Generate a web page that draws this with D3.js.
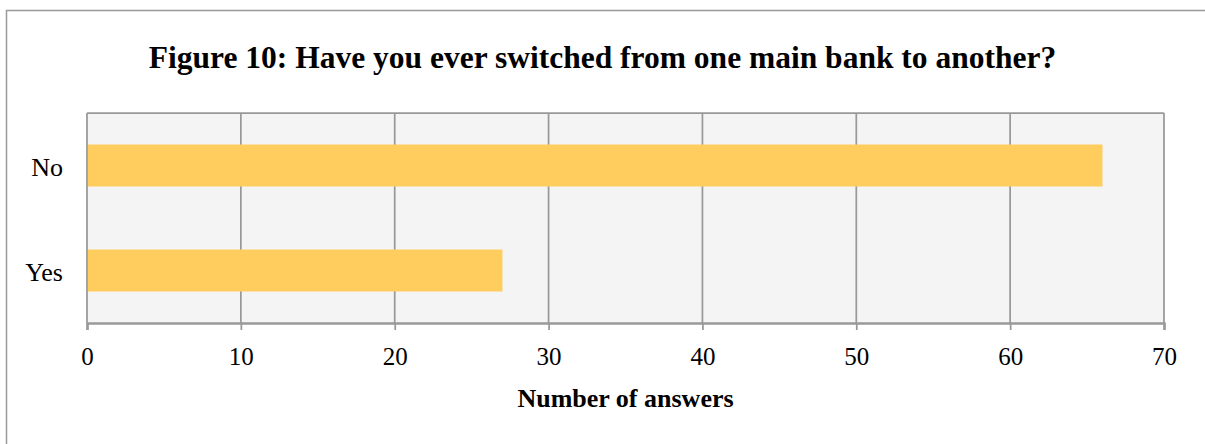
<!DOCTYPE html>
<html>
<head>
<meta charset="utf-8">
<script src="https://cdn.jsdelivr.net/npm/d3@7"></script>
<style>
  body { margin: 0; background: #fff; }
  svg { display: block; font-family: 'Liberation Serif', 'Times New Roman', serif; }
</style>
</head>
<body>
<svg id="chart"></svg>
<script>
'use strict';

var categories = ['No', 'Yes'];
var answers = [66, 27];
var xTicks = [0, 10, 20, 30, 40, 50, 60, 70];

var W = 1205, H = 444;
var margin = { top: 113, right: 41, bottom: 121, left: 87 };
var width = W - margin.left - margin.right,
  height = H - margin.top - margin.bottom;
var grey = '#999999';

var svg = d3.select('#chart')
  .attr('width', W)
  .attr('height', H);

// chart frame, runs off the right and bottom edge
svg.append('rect')
  .attr('x', 6.5).attr('y', 10.5)
  .attr('width', W).attr('height', H)
  .attr('fill', '#fff')
  .attr('stroke', grey)
  .attr('stroke-width', 1.5);

svg.append('text')
  .attr('x', W / 2)
  .attr('y', 68)
  .attr('text-anchor', 'middle')
  .style('font-weight', 'bold')
  .style('font-size', '31.5px')
  .text('Figure 10: Have you ever switched from one main bank to another?');

var g = svg.append('g')
  .attr('transform', 'translate(' + margin.left + ',' + margin.top + ')');

var x = d3.scaleLinear()
  .domain([0, 70])
  .range([0, width]);
var y = d3.scaleBand()
  .domain(categories)
  .range([0, height])
  .paddingInner(0.6)
  .paddingOuter(0.3);

g.append('rect')
  .attr('width', width)
  .attr('height', height)
  .attr('fill', '#f4f4f4');

// vertical gridlines
g.selectAll('.grid')
  .data(xTicks)
  .enter().append('line')
  .attr('class', 'grid')
  .attr('x1', function (d) { return x(d); })
  .attr('x2', function (d) { return x(d); })
  .attr('y1', 0)
  .attr('y2', height)
  .attr('stroke', grey)
  .attr('stroke-width', 1.75);

g.append('line')
  .attr('x1', 0).attr('x2', width)
  .attr('y1', 0).attr('y2', 0)
  .attr('stroke', grey)
  .attr('stroke-width', 1.75);

g.selectAll('.bar')
  .data(answers)
  .enter().append('rect')
  .attr('class', 'bar')
  .attr('x', x(0) + 1)
  .attr('y', function (d, i) { return y(categories[i]); })
  .attr('width', function (d) { return x(d) - x(0) - 1; })
  .attr('height', y.bandwidth())
  .attr('fill', '#ffcc5e');

// x axis
var xAxis = g.append('g')
  .attr('transform', 'translate(0,' + height + ')')
  .call(d3.axisBottom(x).tickValues(xTicks).tickSize(7).tickPadding(17));
xAxis.select('.domain').attr('stroke', grey).attr('stroke-width', 2.5);
xAxis.selectAll('.tick line').attr('stroke', grey).attr('stroke-width', 1.75);
xAxis.selectAll('.tick text')
  .attr('fill', '#000')
  .style('font-size', '25px')
  .style('font-family', 'Liberation Serif, serif');

// y axis labels
var yAxis = g.append('g')
  .call(d3.axisLeft(y).tickSize(0).tickPadding(24));
yAxis.select('.domain').remove();
yAxis.selectAll('.tick text')
  .attr('fill', '#000')
  .attr('dy', '0.42em')
  .style('font-size', '26px')
  .style('font-family', 'Liberation Serif, serif');

svg.append('text')
  .attr('x', margin.left + width / 2)
  .attr('y', 407)
  .attr('text-anchor', 'middle')
  .style('font-weight', 'bold')
  .style('font-size', '26px')
  .text('Number of answers');
</script>
</body>
</html>
